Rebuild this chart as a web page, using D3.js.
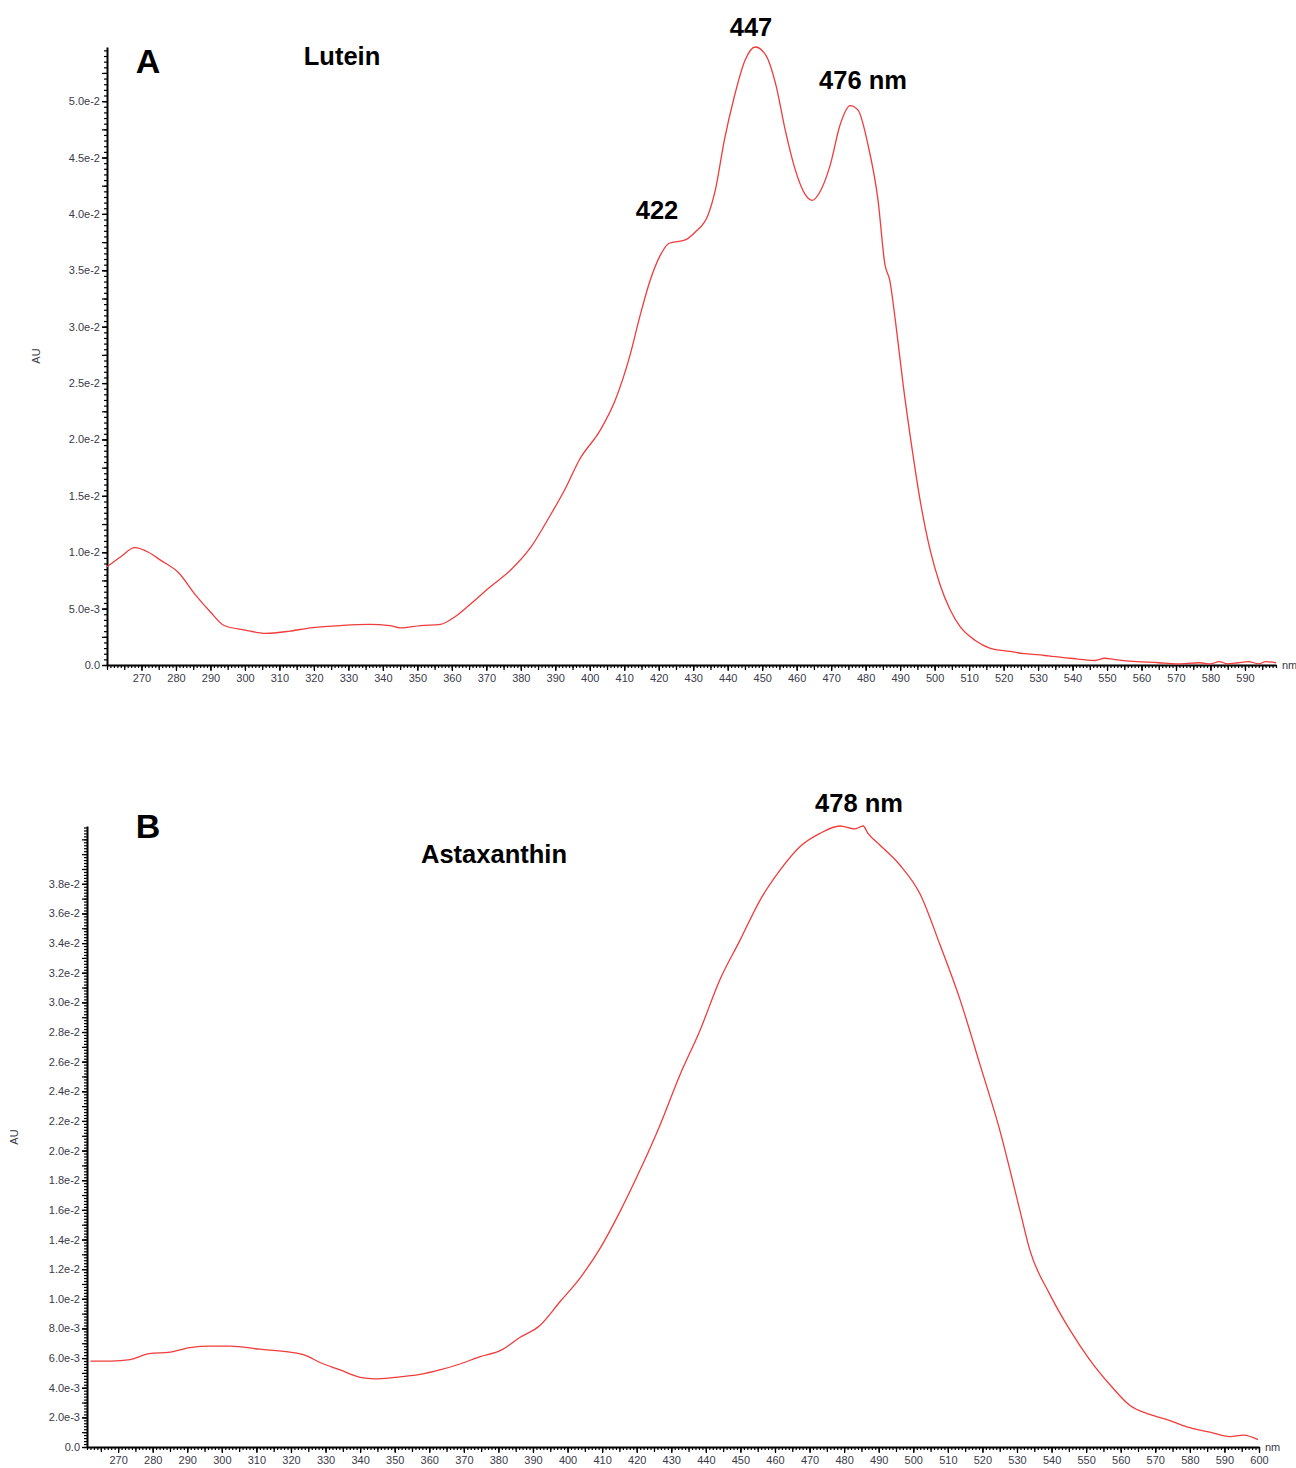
<!DOCTYPE html>
<html>
<head>
    <meta charset="utf-8">
    <script src="https://d3js.org/d3.v7.min.js"></script>
    <style>
        body { margin: 0; background: #fff; }
        .tick text { font-family: "Liberation Sans", Arial, sans-serif; font-size: 11px; fill: #3a3a48; }
        .domain { stroke: #000; stroke-width: 2px; }
        .tick line { stroke: #000; }
        .curve { fill: none; stroke: #f03c3c; stroke-width: 1.3px; }
        .label { font-family: "Liberation Sans", Arial, sans-serif; font-weight: bold; fill: #000; }
        .unit { font-family: "Liberation Sans", Arial, sans-serif; font-size: 11px; fill: #3a3a48; }
    </style>
</head>
<body>
<script>
    // Lutein spectrum (panel A)
    let luteinNm = [260, 264, 268, 272, 275.5, 280.7, 285.7, 290, 294, 300, 306, 313, 319, 327.7, 336, 342, 345, 351, 356.7,
        361, 365, 371, 377, 382.8, 388.6, 393, 397, 403, 407.4, 411.7, 414.6, 417.5, 420.4, 423, 427.7, 430.6, 434.3,
        436.4, 439, 442, 445, 448, 451, 454, 456.7, 459.6, 462.5, 464.5, 467, 469.7, 472.6, 475.5, 477.8, 480.7, 483.6,
        485.6, 487, 488.6, 490.9, 493.5, 495.8, 498.7, 501.6, 504.5, 507.4, 511.7, 516, 521.9, 526, 530.6, 533, 539.3,
        546.5, 549.3, 552, 556.5, 565, 570, 576.9, 580, 582.5, 585, 588, 591, 594, 596, 599];
    let luteinAU = [0.0087, 0.0096, 0.0104, 0.0100, 0.0093, 0.0082, 0.0062, 0.0047, 0.0035, 0.0031, 0.0028, 0.0030, 0.0033,
        0.0035, 0.0036, 0.0035, 0.0033, 0.0035, 0.0036, 0.0043, 0.0053, 0.0069, 0.0084, 0.0104, 0.0133, 0.0157, 0.0182,
        0.0208, 0.0235, 0.0275, 0.0310, 0.0341, 0.0363, 0.0374, 0.0377, 0.0384, 0.0399, 0.0421, 0.0465, 0.0505, 0.0536,
        0.0548, 0.0541, 0.0514, 0.0474, 0.0439, 0.0417, 0.0412, 0.0421, 0.0443, 0.0479, 0.0496, 0.0492, 0.0461, 0.0412,
        0.0355, 0.0341, 0.0306, 0.0248, 0.0191, 0.0146, 0.0102, 0.0071, 0.0049, 0.0034, 0.0022, 0.0015, 0.0012, 0.0010,
        0.0009, 0.0008, 0.0006, 0.0004, 0.0006, 0.0005, 0.00035, 0.0002, 0.0001, 0.0002, 0.0001, 0.0003, 0.0001, 0.0002,
        0.0003, 0.0001, 0.0003, 0.0002];

    // Astaxanthin spectrum (panel B)
    let astaNm = [262, 268, 273.5, 279, 285, 290.8, 296.6, 302.4, 311, 319.7, 324, 328.4, 334.2, 340, 344.3, 350, 357.3,
        363, 368.9, 374.7, 380.5, 386.3, 392, 397.8, 403.6, 409.4, 415.2, 421, 426.7, 432.5, 438.3, 444, 449.9, 455.7,
        461.4, 467.2, 473, 478.8, 483, 485.5, 486.9, 490.4, 496, 502, 507.7, 513.5, 519.3, 525, 530.8, 533.7, 539.5, 545.3,
        551, 556.9, 562.7, 568.4, 574, 580, 585.8, 591.6, 595.5, 599.7];
    let astaAU = [0.0058, 0.0058, 0.0059, 0.0063, 0.0064, 0.0067, 0.0068, 0.0068, 0.0066, 0.0064, 0.0062, 0.0057, 0.0052,
        0.0047, 0.0046, 0.0047, 0.0049, 0.0052, 0.0056, 0.0061, 0.0065, 0.0074, 0.0082, 0.0098, 0.0114, 0.0134, 0.0159,
        0.0187, 0.0217, 0.0251, 0.0281, 0.0315, 0.0342, 0.0369, 0.0389, 0.0405, 0.0414, 0.0419, 0.0417, 0.0419, 0.0414, 0.0406,
        0.0393, 0.0373, 0.0339, 0.0302, 0.0258, 0.0214, 0.0160, 0.0133, 0.0103, 0.0079, 0.0059, 0.0042, 0.0028, 0.0022,
        0.0018, 0.0013, 0.0010, 0.0007, 0.0008, 0.0005];

    // Axis ticks
    let xTicksA = d3.range(270, 591, 10);
    let xTicksB = d3.range(270, 601, 10);
    let yTicksA = d3.range(0, 0.0501, 0.005);
    let yTicksB = d3.range(0, 0.0381, 0.002);

    let panels = [
        { nm: luteinNm, au: luteinAU, xDom: [260, 599], xRange: [107, 1276], yMax: 0.0548, yRange: [665, 47],
          xTicks: xTicksA, yTicks: yTicksA, yMinor: 0.0005, yMid: 0.0025, auPos: [40, 356],
          letter: ["A", 148, 73], name: ["Lutein", 342, 65],
          peaks: [["447", 751, 36], ["422", 657, 219], ["476 nm", 863, 89]] },
        { nm: astaNm, au: astaAU, xDom: [261, 600], xRange: [87, 1259], yMax: 0.0419, yRange: [1447, 826],
          xTicks: xTicksB, yTicks: yTicksB, yMinor: 0.0002, yMid: 0.001, auPos: [18, 1137],
          letter: ["B", 148, 838], name: ["Astaxanthin", 494, 863],
          peaks: [["478 nm", 859, 812]] }
    ];

    let svg = d3.select("body").append("svg")
        .attr("width", 1296)
        .attr("height", 1468);

    let fmt = d3.format(".1e");

    panels.forEach(function(p) {
        let x = d3.scaleLinear().domain(p.xDom).range(p.xRange);
        let y = d3.scaleLinear().domain([0, p.yMax]).range(p.yRange);
        let g = svg.append("g");
        let y0 = p.yRange[0], x0 = p.xRange[0];

        // minor x ticks (1 nm) and medium (5 nm)
        let minorX = d3.range(Math.ceil(p.xDom[0]), p.xDom[1] + 0.01, 1);
        g.append("g").attr("transform", "translate(0," + y0 + ")")
            .call(d3.axisBottom(x).tickValues(minorX).tickSize(3).tickFormat("").tickSizeOuter(0))
            .select(".domain").remove();
        g.append("g").attr("transform", "translate(0," + y0 + ")")
            .call(d3.axisBottom(x).tickValues(minorX.filter(v => v % 5 === 0)).tickSize(5).tickFormat("").tickSizeOuter(0))
            .select(".domain").remove();
        g.append("g").attr("transform", "translate(0," + y0 + ")")
            .call(d3.axisBottom(x).tickValues(p.xTicks).tickSize(6).tickPadding(3).tickFormat(d3.format("d")).tickSizeOuter(0));

        // minor y ticks
        let minorY = d3.range(0, p.yMax, p.yMinor);
        g.append("g").attr("transform", "translate(" + x0 + ",0)")
            .call(d3.axisLeft(y).tickValues(minorY).tickSize(3).tickFormat("").tickSizeOuter(0))
            .select(".domain").remove();
        g.append("g").attr("transform", "translate(" + x0 + ",0)")
            .call(d3.axisLeft(y).tickValues(d3.range(0, p.yMax, p.yMid)).tickSize(5).tickFormat("").tickSizeOuter(0))
            .select(".domain").remove();
        g.append("g").attr("transform", "translate(" + x0 + ",0)")
            .call(d3.axisLeft(y).tickValues(p.yTicks).tickSize(5).tickPadding(2)
                .tickFormat(d => d < 1e-9 ? "0.0" : fmt(d)).tickSizeOuter(0));

        g.selectAll(".tick line").attr("stroke-width", 1.2);

        // "nm" unit and AU label
        g.append("text").attr("class", "unit")
            .attr("x", p.xRange[1] + 6).attr("y", y0 + 4).text("nm");
        g.append("text").attr("class", "unit")
            .attr("transform", "translate(" + p.auPos[0] + "," + p.auPos[1] + ") rotate(-90)")
            .attr("text-anchor", "middle").text("AU");

        // spectrum curve
        let line = d3.line()
            .x((d, i) => x(p.nm[i]))
            .y(d => y(d))
            .curve(d3.curveMonotoneX);
        g.append("path").attr("class", "curve").attr("d", line(p.au));

        // annotations
        g.append("text").attr("class", "label").attr("font-size", 34)
            .attr("x", p.letter[1]).attr("y", p.letter[2]).attr("text-anchor", "middle").text(p.letter[0]);
        g.append("text").attr("class", "label").attr("font-size", 25.5)
            .attr("x", p.name[1]).attr("y", p.name[2]).attr("text-anchor", "middle").text(p.name[0]);
        p.peaks.forEach(function(k) {
            g.append("text").attr("class", "label").attr("font-size", 25.5)
                .attr("x", k[1]).attr("y", k[2]).attr("text-anchor", "middle").text(k[0]);
        });
    });
</script>
</body>
</html>
